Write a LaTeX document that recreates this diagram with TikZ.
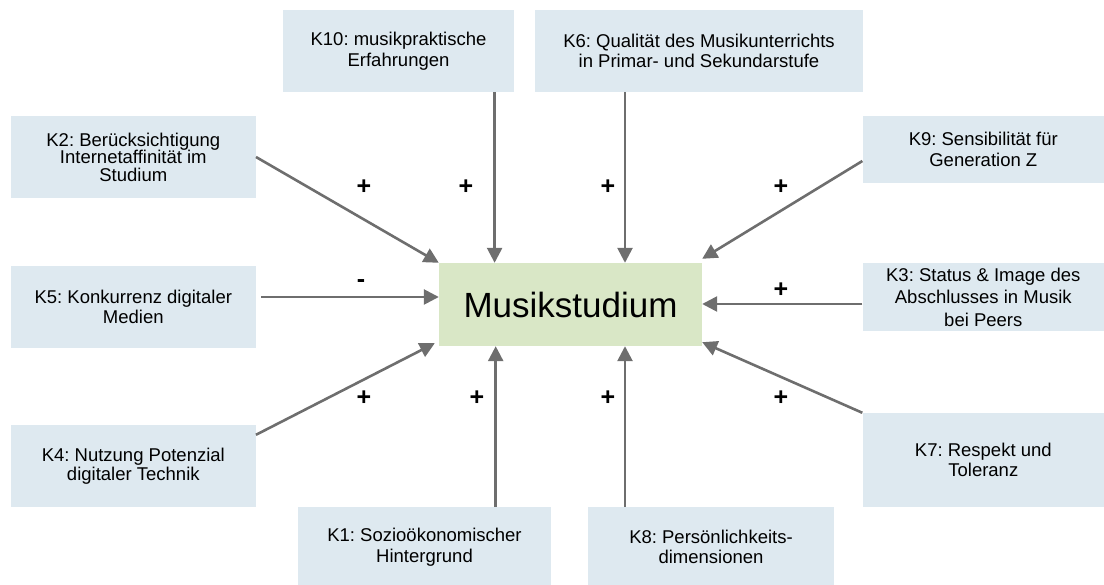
\documentclass[tikz,border=0pt]{standalone}
\usepackage{fontspec}
\setmainfont{Liberation Sans}
\usetikzlibrary{arrows.meta,calc}
\definecolor{boxblue}{RGB}{222,233,240}
\definecolor{boxgreen}{RGB}{217,231,198}
\definecolor{arrgray}{RGB}{110,110,110}
\frenchspacing
\tikzset{
  kbox/.style={fill=boxblue,draw=none,align=center,inner sep=0pt,
    font=\frenchspacing\fontsize{18.5}{20.5}\selectfont},
  mbox/.style={fill=boxgreen,draw=none,align=center,inner sep=0pt,
    font=\fontsize{35}{40}\selectfont},
  arr/.style={draw=arrgray,line width=2.6pt,-{Triangle[length=15pt,width=15pt]}},
  sign/.style={font=\fontsize{25}{27}\bfseries\selectfont,inner sep=0pt}
}
\begin{document}
\begin{tikzpicture}[x=1pt,y=-1pt]
\useasboundingbox (0,0) rectangle (1104,585);
% boxes
\node[kbox,minimum width=231pt,minimum height=82pt] (K10) at (398.5,51) {K10: musikpraktische\\Erfahrungen};
\node[kbox,minimum width=327.5pt,minimum height=82pt] (K6) at (699,51) {K6: Qualität des Musikunterrichts\\in Primar- und Sekundarstufe};
\node[kbox,minimum width=245pt,minimum height=82pt,font=\frenchspacing\fontsize{18.5}{17.5}\selectfont] (K2) at (133.3,157) {K2: Berücksichtigung\\Internetaffinität im\\Studium};
\node[kbox,minimum width=241.5pt,minimum height=67pt] (K9) at (983.3,149.5) {K9: Sensibilität für\\Generation Z};
\node[kbox,minimum width=245pt,minimum height=82pt] (K5) at (133.3,307) {K5: Konkurrenz digitaler\\Medien};
\node[mbox,minimum width=263pt,minimum height=83pt] (M) at (570.5,304.5) {Musikstudium};
\node[kbox,minimum width=241.5pt,minimum height=68pt,font=\frenchspacing\fontsize{18.5}{22.5}\selectfont] (K3) at (983.3,297) {K3: Status \& Image des\\Abschlusses in Musik\\bei Peers};
\node[kbox,minimum width=245pt,minimum height=82pt,font=\frenchspacing\fontsize{18.5}{19}\selectfont] (K4) at (133.3,466) {K4: Nutzung Potenzial\\digitaler Technik};
\node[kbox,minimum width=241.5pt,minimum height=94pt] (K7) at (983.3,460) {K7: Respekt und\\Toleranz};
\node[kbox,minimum width=253pt,minimum height=80pt] (K1) at (424.5,547) {K1: Sozioökonomischer\\Hintergrund};
\node[kbox,minimum width=245.6pt,minimum height=80pt] (K8) at (711,547) {K8: Persönlichkeits-\\dimensionen};
% connector endpoints
\coordinate (a10) at ($(K10.south)+(96.1,0)$);
\coordinate (a6) at ($(K6.south)+(-74,0)$);
\coordinate (a1) at ($(K1.north)+(71.2,0)$);
\coordinate (a8) at ($(K8.north)+(-86,0)$);
\coordinate (s5) at ($(K5.east)+(5,-10)$);
\coordinate (s3) at ($(K3.west)+(0,7)$);
\coordinate (s9) at ($(K9.west)+(0,11.5)$);
\coordinate (t9) at ($(M.north east)+(0,-4)$);
\coordinate (s4) at ($(K4.north east)+(0,10)$);
\coordinate (t4) at ($(M.south west)+(-4,-3)$);
\coordinate (t7) at ($(M.south east)+(0,-4)$);
% connectors
\draw[arr] (a10) -- (a10 |- M.north);
\draw[arr] (a6) -- (a6 |- M.north);
\draw[arr] (K2.east) -- (M.north west);
\draw[arr] (s9) -- (t9);
\draw[arr] (s5) -- (s5 -| M.west);
\draw[arr] (s3) -- (s3 -| M.east);
\draw[arr] (s4) -- (t4);
\draw[arr] (K7.north west) -- (t7);
\draw[arr] (a1) -- (a1 |- M.south);
\draw[arr] (a8) -- (a8 |- M.south);
% signs
\node[sign] (p2) at (364,187) {+};
\node[sign] (p10) at (466,187) {+};
\node[sign] (p6) at (608,187) {+};
\node[sign] (p9) at (781,187) {+};
\node[sign] (m5) at (361,284) {-};
\node[sign] (p3) at (781,290) {+};
\node[sign] (p4) at (364,398) {+};
\node[sign] (p1) at (477,398) {+};
\node[sign] (p8) at (608,398) {+};
\node[sign] (p7) at (781,398) {+};
\end{tikzpicture}
\end{document}
